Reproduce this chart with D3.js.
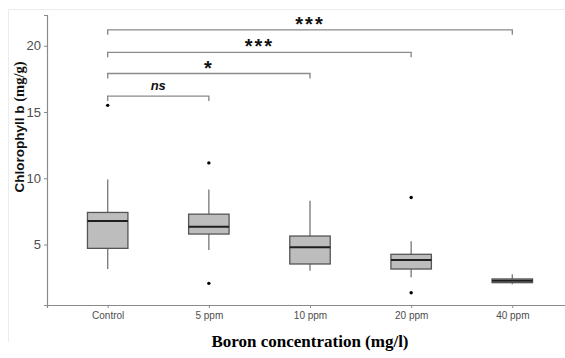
<!DOCTYPE html>
<html><head><meta charset="utf-8">
<script src="https://cdn.jsdelivr.net/npm/d3@7"></script>
<style>html,body{margin:0;padding:0;background:#fff;}svg{display:block;}</style>
</head><body>
<svg id="chart" width="565" height="358"></svg>
<script>
const categories = ["Control", "5 ppm", "10 ppm", "20 ppm", "40 ppm"];
const whiskerLow  = [3.15, 4.58, 3.02, 2.52, 2.00];
const q1          = [4.71, 5.79, 3.53, 3.15, 2.12];
const median      = [6.77, 6.34, 4.79, 3.83, 2.27];
const q3          = [7.42, 7.29, 5.64, 4.26, 2.40];
const whiskerHigh = [9.91, 9.16, 8.30, 5.24, 2.75];
const outliers    = [[15.5], [11.16, 2.07], [], [8.55, 1.36], []];
const yTicks = [5, 10, 15, 20];
const compFrom = ["Control", "Control", "Control", "Control"];
const compTo = ["5 ppm", "10 ppm", "20 ppm", "40 ppm"];
const compY = [16.2, 17.9, 19.5, 21.2];
const compLabel = ["ns", "*", "***", "***"];

(function () {
const svg = d3.select("#chart");
const mLeft = 47, mRight = 573, mTop = 15, mBottom = 305;

// faint frame
svg.append("path").attr("d", "M8.5,342 V9.5 H565").attr("fill", "none").attr("stroke", "#ececec").attr("stroke-width", 1);

const x = d3.scalePoint().domain(categories).range([mLeft, mRight]).padding(0.6);
const y = d3.scaleLinear().domain([0.435, 22.32]).range([mBottom, mTop]);
const bw = x.step() * 0.4;

// axes
const xAxis = svg.append("g").attr("transform", `translate(0,${mBottom})`)
  .call(d3.axisBottom(x).tickSizeOuter(0).tickSize(3).tickPadding(4));
xAxis.select(".domain").attr("stroke", "#8a8a8a").attr("stroke-width", 1.2);
xAxis.selectAll(".tick line").attr("stroke", "#8a8a8a");
xAxis.selectAll("text").attr("font-family", "Liberation Sans, Arial, sans-serif").attr("font-size", 10).attr("fill", "#4d4d4d");

const yAxis = svg.append("g").attr("transform", `translate(${mLeft},0)`)
  .call(d3.axisLeft(y).tickValues(yTicks).tickSizeOuter(0).tickSize(3).tickPadding(3));
yAxis.select(".domain").attr("stroke", "#8a8a8a").attr("stroke-width", 1.2);
yAxis.selectAll(".tick line").attr("stroke", "#8a8a8a");
yAxis.selectAll("text").attr("font-family", "Liberation Sans, Arial, sans-serif").attr("font-size", 13).attr("fill", "#4d4d4d");

// boxes
const data = categories.map((c, i) => ({c, lo: whiskerLow[i], q1: q1[i], med: median[i], q3: q3[i], hi: whiskerHigh[i], out: outliers[i]}));
const g = svg.append("g");
const bx = g.selectAll("g.box").data(data).join("g").attr("class", "box");
bx.append("line").attr("x1", d => x(d.c)).attr("x2", d => x(d.c)).attr("y1", d => y(d.hi)).attr("y2", d => y(d.q3)).attr("stroke", "#7f7f7f").attr("stroke-width", 1.4);
bx.append("line").attr("x1", d => x(d.c)).attr("x2", d => x(d.c)).attr("y1", d => y(d.q1)).attr("y2", d => y(d.lo)).attr("stroke", "#7f7f7f").attr("stroke-width", 1.4);
bx.append("rect").attr("x", d => x(d.c) - bw / 2).attr("width", bw)
  .attr("y", d => y(d.q3)).attr("height", d => y(d.q1) - y(d.q3))
  .attr("fill", "#bdbdbd").attr("stroke", "#555").attr("stroke-width", 1.3);
bx.append("line").attr("x1", d => x(d.c) - bw / 2).attr("x2", d => x(d.c) + bw / 2)
  .attr("y1", d => y(d.med)).attr("y2", d => y(d.med)).attr("stroke", "#1f1f1f").attr("stroke-width", 2);
bx.selectAll("circle").data(d => d.out.map(v => ({c: d.c, v}))).join("circle")
  .attr("cx", d => x(d.c)).attr("cy", d => y(d.v)).attr("r", 1.7).attr("fill", "#000");

// significance brackets
const tip = 5;
const comps = compFrom.map((f, i) => ({f, t: compTo[i], yv: compY[i], lab: compLabel[i]}));
const br = svg.append("g");
br.selectAll("path").data(comps).join("path")
  .attr("d", d => `M${x(d.f)},${y(d.yv) + tip} V${y(d.yv)} H${x(d.t)} V${y(d.yv) + tip}`)
  .attr("fill", "none").attr("stroke", "#8a8a8a").attr("stroke-width", 1.4);
br.selectAll("text").data(comps).join("text")
  .attr("x", d => (x(d.f) + x(d.t)) / 2)
  .attr("y", d => d.lab === "ns" ? y(d.yv) - 6.5 : y(d.yv) + 1)
  .attr("text-anchor", "middle")
  .attr("font-family", "Liberation Sans, Arial, sans-serif")
  .attr("font-weight", "bold")
  .attr("font-style", d => d.lab === "ns" ? "italic" : "normal")
  .attr("font-size", d => d.lab === "ns" ? 13 : 20)
  .attr("letter-spacing", d => d.lab === "ns" ? 0 : 2)
  .attr("fill", "#111")
  .text(d => d.lab);

// axis titles
svg.append("text").attr("x", (x(categories[0]) + x(categories[4])) / 2).attr("y", 347)
  .attr("text-anchor", "middle").attr("font-family", "Liberation Serif, Times New Roman, serif")
  .attr("font-weight", "bold").attr("font-size", 17).attr("fill", "#000")
  .text("Boron concentration (mg/l)");

const yt = svg.append("text").attr("transform", "translate(24,127) rotate(-90)")
  .attr("text-anchor", "middle").attr("font-weight", "bold").attr("font-size", 13.5).attr("fill", "#111");
yt.append("tspan").attr("font-family", "Liberation Sans, Arial, sans-serif").text("Chlorophyll b ");
yt.append("tspan").attr("font-family", "Liberation Serif, Times New Roman, serif").attr("font-size", 14.5).text("(mg/g)");
})();
</script>
</body></html>
